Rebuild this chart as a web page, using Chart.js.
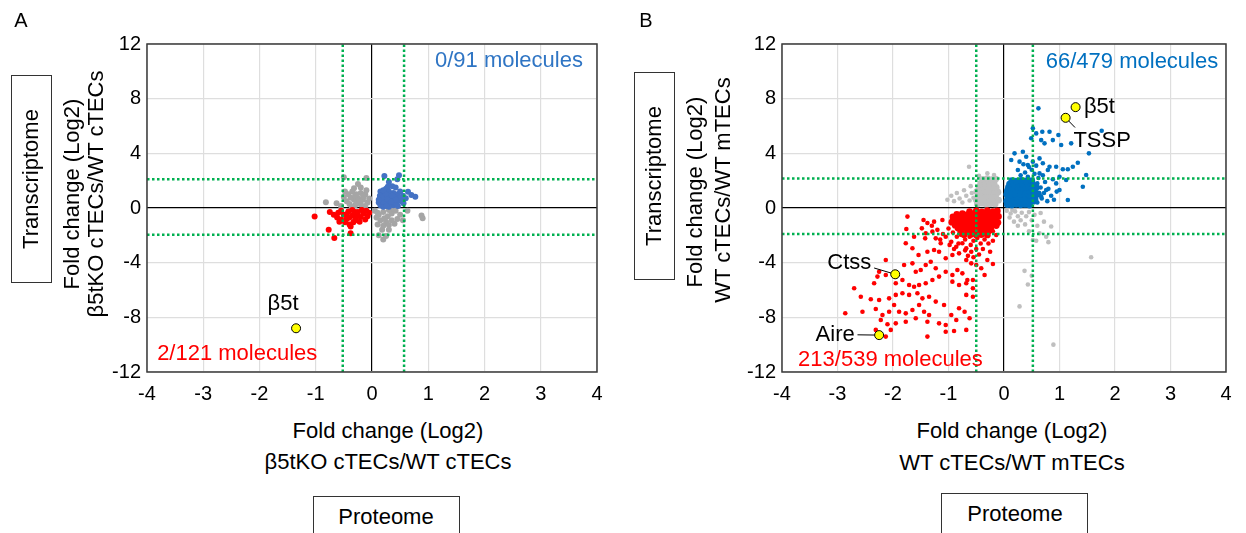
<html>
<head>
    <title>Proteome vs Transcriptome</title>
    <style>
        body {
            margin: 0;
            width: 1246px;
            height: 533px;
            overflow: hidden;
            background: #fff;
            font-family: "Liberation Sans", Arial, sans-serif;
            color: #000;
            position: relative;
        }
        canvas {
            position: absolute;
            top: 0;
        }
        .t {
            position: absolute;
            white-space: nowrap;
            transform: translate(-50%, -50%);
            font-size: 22px;
        }
        .v {
            transform: translate(-50%, -50%) rotate(-90deg);
        }
        .box {
            position: absolute;
            border: 1.5px solid #333;
            box-sizing: border-box;
        }
        .panel {
            position: absolute;
            font-size: 20px;
            transform: translate(-50%, -50%);
        }
    </style>
    <script src="https://cdn.jsdelivr.net/npm/chart.js"></script>
</head>
<body>
    <canvas id="chartA" width="620" height="412" style="left:0"></canvas>
    <canvas id="chartB" width="626" height="412" style="left:620px"></canvas>

    <div class="panel" style="left:21px;top:20px">A</div>
    <div class="panel" style="left:646px;top:20px">B</div>

    <div class="box" style="left:11px;top:75px;width:41px;height:208px"></div>
    <div class="t v" style="left:31px;top:179px">Transcriptome</div>
    <div class="t v" style="left:72px;top:194px">Fold change (Log2)</div>
    <div class="t v" style="left:96px;top:194px">β5tKO cTECs/WT cTECs</div>
    <div class="t" style="left:388px;top:431px">Fold change (Log2)</div>
    <div class="t" style="left:388px;top:462px">β5tKO cTECs/WT cTECs</div>
    <div class="box" style="left:313px;top:496px;width:147px;height:60px"></div>
    <div class="t" style="left:386px;top:517px">Proteome</div>

    <div class="box" style="left:634px;top:72px;width:41px;height:208px"></div>
    <div class="t v" style="left:654px;top:176px">Transcriptome</div>
    <div class="t v" style="left:695px;top:192px">Fold change (Log2)</div>
    <div class="t v" style="left:723px;top:190px">WT cTECs/WT mTECs</div>
    <div class="t" style="left:1012px;top:431px">Fold change (Log2)</div>
    <div class="t" style="left:1012px;top:463px">WT cTECs/WT mTECs</div>
    <div class="box" style="left:941px;top:493px;width:147px;height:60px"></div>
    <div class="t" style="left:1015px;top:514px">Proteome</div>

    <script>
        // axis ticks
        var xTicks = [-4, -3, -2, -1, 0, 1, 2, 3, 4];
        var yTicks = [-12, -8, -4, 0, 4, 8, 12];

        // cut-off lines (log2)
        var aCutX = [-0.52, 0.57];
        var aCutY = [2.1, -1.95];
        var bCutX = [-0.5, 0.52];
        var bCutY = [2.15, -1.9];

        // panel A: beta5tKO cTECs / WT cTECs
        var aGray = [
            [-0.82,0.42],[-0.63,0.35],[-0.1,2.2],[-0.25,1.75],[-0.32,1.45],[-0.2,1.5],[-0.45,0.5],[-0.5,0.8],
            [-0.42,1.0],[-0.35,1.2],[-0.28,1.0],[-0.2,1.1],[-0.12,1.0],[-0.4,0.3],[-0.32,0.6],[-0.24,0.7],
            [-0.16,0.6],[-0.08,0.4],[-0.3,0.2],[-0.2,0.25],[-0.12,0.15],[-0.38,0.75],[-0.27,0.4],[-0.15,0.85],
            [-0.05,0.7],[-0.55,0.15],[-0.48,1.2],[-0.5,2.25],[-0.3,0.9],[-0.1,1.3],[-0.36,0.1],[-0.22,0.5],
            [0.05,-0.2],[0.12,-0.5],[0.2,-0.3],[0.28,-0.6],[0.35,-0.4],[0.42,-0.2],[0.5,-0.5],[0.15,-0.9],
            [0.25,-1.0],[0.35,-0.9],[0.45,-0.8],[0.1,-1.2],[0.2,-1.3],[0.3,-1.25],[0.4,-1.15],[0.55,-0.9],
            [0.63,-0.2],[0.88,-0.55],[0.9,-0.75],[0.12,-2.0],[0.2,-2.3],[0.25,-2.05],[0.18,-1.6],[0.3,-1.6],
            [0.08,-0.7],[0.38,-0.05],[0.22,-0.75],[0.1,-0.35],[0.3,-0.15]
        ];
        var aRed = [
            [-1.02,-0.62],[-0.77,-1.6],[-0.67,-2.2],[-0.38,-1.85],[-0.38,-1.35],[-0.75,-0.3],[-0.68,-0.5],
            [-0.6,-0.35],[-0.62,-0.7],[-0.55,-0.2],[-0.5,-0.5],[-0.45,-0.8],[-0.42,-0.25],[-0.35,-0.55],
            [-0.3,-0.9],[-0.25,-0.3],[-0.2,-0.65],[-0.15,-0.4],[-0.1,-0.2],[-0.08,-0.6],[-0.48,-1.05],
            [-0.4,-1.2],[-0.3,-0.3],[-0.22,-1.0],[-0.12,-0.85],[-0.55,-0.85],[-0.35,-0.15],[-0.58,-1.0],
            [-0.28,-0.65],[-0.18,-0.15],[-0.45,-0.45],[-0.05,-0.35],[-0.4,-0.7],[-0.26,-0.45],[-0.33,-1.05]
        ];
        var aBlue = [
            [0.22,2.35],[0.48,2.4],[0.45,2.1],[0.3,1.9],[0.36,1.6],[0.42,1.5],[0.25,1.4],[0.15,1.2],
            [0.2,1.1],[0.3,1.2],[0.38,1.1],[0.45,1.0],[0.5,1.2],[0.55,0.9],[0.64,1.19],[0.7,0.95],
            [0.77,0.83],[0.6,0.71],[0.56,0.34],[0.52,0.5],[0.14,0.9],[0.18,0.6],[0.12,0.4],[0.15,0.2],
            [0.2,0.1],[0.25,0.3],[0.3,0.5],[0.35,0.7],[0.4,0.8],[0.28,0.8],[0.22,0.9],[0.33,0.3],
            [0.38,0.2],[0.43,0.4],[0.47,0.6],[0.2,0.45],[0.27,0.65],[0.32,1.0],[0.4,0.4],[0.46,0.15],
            [0.5,0.75],[0.24,1.0],[0.36,0.9],[0.17,0.75],[0.12,0.6],[0.3,0.1],[0.42,0.6],[0.26,0.15],
            [0.34,0.45],[0.28,1.55],[0.2,1.3]
        ];
        var aYellow = [[-1.35, -8.8]];

        // panel B: WT cTECs / WT mTECs
        var bGray = [
            [-1.02,0.6],[-0.95,0.9],[-0.9,0.5],[-0.85,1.1],[-0.8,0.7],[-0.75,0.4],[-0.72,1.3],[-0.68,0.9],
            [-0.63,3.02],[-0.62,0.55],[-0.6,1.6],[-0.58,1.1],[-0.55,0.75],[-0.3,2.54],[-0.18,2.41],[-0.45,2.35],
            [0.05,-0.2],[0.12,-0.4],[0.2,-0.25],[0.1,-0.7],[0.25,-0.6],[0.32,-0.35],[0.18,-1.0],[0.3,-0.9],
            [0.4,-0.6],[0.45,-0.3],[0.38,-1.2],[0.5,-0.9],[0.55,-0.5],[0.66,-0.37],[0.6,-1.3],[0.72,-1.0],
            [0.85,-1.35],[0.64,-1.85],[0.76,-2.1],[0.52,-2.34],[0.45,-1.7],[0.58,-2.4],[0.8,-2.5],[0.25,-1.3],
            [0.15,-0.15],[1.57,-3.6],[0.37,-4.6],[0.43,-5.6],[0.28,-7.2],[0.89,-10.0],[0.5,-4.96]
        ];
        var bGrayCore = [
            [-0.48,0.3],[-0.4,0.35],[-0.32,0.28],[-0.24,0.33],[-0.16,0.3],
            [-0.5,0.6],[-0.42,0.62],[-0.34,0.58],[-0.26,0.64],[-0.18,0.6],[-0.1,0.57],
            [-0.47,0.9],[-0.39,0.94],[-0.31,0.88],[-0.23,0.92],[-0.15,0.9],
            [-0.49,1.2],[-0.41,1.18],[-0.33,1.24],[-0.25,1.2],[-0.17,1.22],[-0.11,1.16],
            [-0.45,1.5],[-0.37,1.54],[-0.29,1.48],[-0.21,1.52],[-0.14,1.5],
            [-0.42,1.8],[-0.34,1.84],[-0.26,1.78],[-0.18,1.82],
            [-0.38,2.1],[-0.3,2.14],[-0.22,2.08],[-0.15,2.12]
        ];
        var bRed = [
            [-1.74,-0.63],[-1.45,-0.88],[-1.26,-1.0],[-1.11,-0.88],[-1.76,-1.54],[-1.48,-1.49],[-1.41,-1.85],
            [-1.29,-1.73],[-1.62,-2.1],[-1.42,-2.22],[-1.23,-2.22],[-1.14,-2.58],[-1.05,-2.1],[-0.95,-2.47],
            [-0.86,-2.83],[-0.75,-2.58],[-0.68,-2.95],[-0.59,-3.2],[-1.77,-2.58],[-1.65,-2.95],[-1.54,-3.44],
            [-1.38,-3.2],[-1.26,-3.07],[-1.17,-3.2],[-1.05,-3.68],[-0.93,-3.44],[-0.81,-3.32],[-0.68,-3.8],
            [-0.59,-4.05],[-0.5,-4.17],[-0.41,-4.41],[-0.35,-4.9],[-2.13,-3.8],[-1.8,-4.17],[-1.65,-4.05],
            [-1.59,-4.66],[-1.5,-4.54],[-1.41,-4.17],[-1.32,-3.93],[-1.23,-4.41],[-1.17,-5.02],[-1.05,-4.66],
            [-0.93,-4.9],[-0.84,-4.54],[-0.75,-4.78],[-0.66,-5.27],[-0.56,-5.27],[-2.25,-4.66],[-2.28,-5.02],
            [-2.34,-5.51],[-2.13,-4.9],[-1.95,-5.51],[-1.83,-5.27],[-1.71,-5.63],[-1.62,-5.76],[-1.53,-5.63],
            [-1.41,-5.51],[-1.29,-5.27],[-0.93,-5.39],[-0.81,-5.63],[-0.68,-5.51],[-0.56,-5.87],[-2.7,-5.87],
            [-2.58,-6.49],[-2.4,-6.68],[-2.25,-6.73],[-2.07,-6.61],[-1.95,-6.36],[-1.83,-6.24],[-1.71,-6.36],
            [-1.56,-6.24],[-1.47,-6.61],[-1.35,-6.49],[-1.23,-6.85],[-0.68,-6.36],[-0.56,-6.49],[-2.86,-7.7],
            [-2.55,-7.59],[-2.31,-7.39],[-2.19,-7.83],[-2.07,-7.59],[-1.98,-7.1],[-1.89,-7.59],[-1.77,-7.71],
            [-1.65,-7.46],[-1.53,-7.1],[-1.44,-7.59],[-1.35,-7.83],[-1.08,-7.1],[-0.95,-7.83],[-0.81,-7.34],
            [-0.71,-7.59],[-0.62,-8.07],[-2.22,-8.19],[-2.1,-8.51],[-1.95,-8.44],[-1.77,-8.32],[-1.59,-8.07],
            [-1.38,-8.32],[-1.17,-8.44],[-1.05,-8.56],[-0.86,-8.19],[-2.31,-8.92],[-2.13,-9.41],[-2.04,-8.92],
            [-1.38,-9.41],[-1.05,-9.05],[-0.9,-9.0],[-0.68,-8.92],
            [-1.2,-1.6],[-1.1,-1.9],[-1.0,-1.5],[-0.92,-1.8],[-0.85,-2.1],[-0.78,-1.95],[-0.7,-2.3],
            [-0.62,-2.1],[-0.55,-2.4],[-0.48,-2.2],[-0.42,-2.6],[-0.35,-2.3],[-0.3,-2.0],[-0.6,-2.7],
            [-0.7,-3.1],[-0.82,-2.6],[-0.9,-3.0],[-0.5,-3.0],[-0.45,-3.4],[-0.38,-3.0],[-0.28,-2.6],
            [-0.25,-3.2],[-0.55,-3.6],[-0.65,-3.5],[-0.98,-2.7],[-1.15,-2.3],[-1.3,-1.3],[-1.38,-1.1],
            [-0.3,-3.8],[-0.2,-4.1],[-0.2,-2.4],[-0.4,-1.9],[-0.65,-1.75],[-0.14,-1.98],[-0.2,-1.7]
        ];
        var bRedCore = [
            [-0.62,-0.27],[-0.5,-0.22],[-0.4,-0.28],[-0.3,-0.2],[-0.2,-0.26],[-0.12,-0.22],
            [-0.85,-0.47],[-0.75,-0.42],[-0.66,-0.48],[-0.56,-0.44],[-0.47,-0.5],[-0.38,-0.43],[-0.29,-0.47],[-0.21,-0.42],[-0.13,-0.48],
            [-0.92,-0.66],[-0.81,-0.62],[-0.72,-0.68],[-0.63,-0.63],[-0.53,-0.67],[-0.44,-0.62],[-0.35,-0.68],[-0.26,-0.64],[-0.17,-0.66],[-0.1,-0.62],
            [-0.9,-0.86],[-0.8,-0.82],[-0.7,-0.88],[-0.61,-0.84],[-0.52,-0.87],[-0.43,-0.83],[-0.33,-0.88],[-0.24,-0.82],[-0.15,-0.86],
            [-0.94,-1.04],[-0.84,-1.08],[-0.74,-1.03],[-0.65,-1.07],[-0.56,-1.02],[-0.46,-1.06],[-0.37,-1.03],[-0.28,-1.08],[-0.19,-1.04],[-0.11,-1.07],
            [-0.88,-1.26],[-0.78,-1.22],[-0.68,-1.28],[-0.58,-1.24],[-0.49,-1.27],[-0.4,-1.22],[-0.31,-1.26],[-0.22,-1.23],[-0.14,-1.28],
            [-0.83,-1.46],[-0.72,-1.42],[-0.62,-1.48],[-0.52,-1.44],[-0.42,-1.47],[-0.33,-1.43],[-0.24,-1.46],
            [-0.78,-1.72],[-0.66,-1.68],[-0.55,-1.74],[-0.45,-1.69],[-0.36,-1.72],[-0.27,-1.67],
            [-0.72,-1.96],[-0.6,-1.93],[-0.5,-1.98],[-0.41,-1.94],[-0.3,-1.97]
        ];
        var bBlue = [
            [0.62,7.29],[0.52,5.83],[0.58,5.46],[0.69,5.58],[0.82,5.58],[0.98,5.34],[0.49,5.1],[0.67,4.97],
            [0.73,4.73],[0.88,4.97],[1.03,4.61],[1.21,4.73],[1.53,4.0],[0.19,4.0],[0.34,4.12],[0.13,3.51],
            [0.28,3.39],[0.4,3.75],[0.43,3.15],[0.52,3.39],[0.64,3.63],[0.7,3.27],[0.82,3.02],[0.94,3.02],
            [1.06,2.83],[1.15,2.83],[1.24,3.02],[1.33,3.31],[1.48,2.41],[1.42,1.56],[1.15,0.58],[1.0,1.32],
            [0.94,1.8],[1.12,2.05],[1.0,2.29],[0.79,2.78],[0.64,2.53],[0.76,1.32],[0.67,0.83],[0.58,0.58],
            [0.25,2.78],[0.43,2.29],[1.76,5.65],
            [0.6,0.4],[0.68,0.7],[0.72,1.1],[0.78,0.5],[0.66,1.5],[0.74,1.9],[0.85,0.9],[0.62,2.2],
            [0.55,2.5],[0.7,2.4],[0.8,1.4],[0.9,0.6],[0.95,1.2],[0.88,2.1],[0.6,1.8],[0.5,2.8],
            [0.38,2.6],[0.3,2.4],[0.45,3.0],[0.58,3.1],[0.35,3.2]
        ];
        var bBlueCore = [
            [0.06,0.25],[0.14,0.22],[0.22,0.27],[0.3,0.23],[0.38,0.26],[0.46,0.22],
            [0.05,0.5],[0.13,0.47],[0.21,0.52],[0.29,0.48],[0.37,0.51],[0.45,0.47],[0.53,0.5],
            [0.07,0.75],[0.15,0.72],[0.23,0.77],[0.31,0.73],[0.39,0.76],[0.47,0.72],[0.56,0.75],
            [0.05,1.0],[0.13,0.97],[0.21,1.02],[0.29,0.98],[0.37,1.01],[0.45,0.97],[0.54,1.0],[0.62,1.03],
            [0.06,1.25],[0.14,1.22],[0.22,1.27],[0.3,1.23],[0.38,1.26],[0.46,1.22],[0.55,1.25],
            [0.08,1.5],[0.16,1.47],[0.24,1.52],[0.32,1.48],[0.4,1.51],[0.49,1.47],[0.58,1.5],
            [0.1,1.75],[0.18,1.72],[0.26,1.77],[0.34,1.73],[0.43,1.76],[0.52,1.72],
            [0.14,2.0],[0.22,1.97],[0.31,2.02],[0.4,1.98],[0.5,2.0]
        ];
        var bYellow = [[1.29, 7.38], [1.11, 6.6], [-1.96, -4.85], [-2.25, -9.3]];

        function pts(list) {
            return list.map(function (p) { return { x: p[0], y: p[1] }; });
        }

        function dots(list, color, r, order) {
            return { data: pts(list), backgroundColor: color, borderWidth: 0, pointRadius: r, order: order };
        }

        function seg(a, b, color, width, dash, order) {
            return {
                data: pts([a, b]), showLine: true, pointRadius: 0, borderColor: color,
                borderWidth: width, borderDash: dash, order: order
            };
        }

        function cutLines(cx, cy) {
            var out = [];
            cx.forEach(function (v) { out.push(seg([v, -12], [v, 12], '#00b050', 2.5, [2.5, 2.5], 1)); });
            cy.forEach(function (v) { out.push(seg([-4, v], [4, v], '#00b050', 2.5, [2.5, 2.5], 1)); });
            return out;
        }

        var annot = {
            id: 'annot',
            afterDatasetsDraw: function (chart, args, opts) {
                var ctx = chart.ctx, xs = chart.scales.x, ys = chart.scales.y;
                (opts.texts || []).forEach(function (t) {
                    ctx.save();
                    ctx.font = (t.size || 22) + 'px "Liberation Sans", Arial, sans-serif';
                    ctx.fillStyle = t.color || '#000';
                    ctx.textAlign = t.align || 'center';
                    ctx.textBaseline = 'middle';
                    ctx.fillText(t.text, xs.getPixelForValue(t.x), ys.getPixelForValue(t.y));
                    ctx.restore();
                });
            },
            afterDraw: function (chart) {
                var a = chart.chartArea, ctx = chart.ctx;
                ctx.save();
                ctx.strokeStyle = '#3a3a3a';
                ctx.lineWidth = 1.5;
                ctx.strokeRect(a.left, a.top, a.right - a.left, a.bottom - a.top);
                ctx.restore();
            }
        };

        function gridColor(c) {
            return c.tick && c.tick.value === 0 ? '#000' : '#dedede';
        }

        function makeChart(id, datasets, texts, padLeft, padRight) {
            return new Chart(document.getElementById(id), {
                type: 'scatter',
                data: { datasets: datasets },
                plugins: [annot],
                options: {
                    responsive: false,
                    animation: false,
                    devicePixelRatio: 1,
                    layout: { padding: { left: padLeft, right: padRight, top: 44, bottom: 0 } },
                    plugins: {
                        legend: { display: false },
                        tooltip: { enabled: false },
                        annot: { texts: texts }
                    },
                    scales: {
                        x: {
                            min: xTicks[0], max: xTicks[xTicks.length - 1],
                            afterBuildTicks: function (s) { s.ticks = xTicks.map(function (v) { return { value: v }; }); },
                            afterFit: function (s) { s.height = 40; },
                            ticks: { padding: 10, color: '#000', font: { size: 20, family: '"Liberation Sans", Arial' } },
                            grid: { color: gridColor, lineWidth: 1.2, drawTicks: false },
                            border: { display: false }
                        },
                        y: {
                            min: yTicks[0], max: yTicks[yTicks.length - 1],
                            afterBuildTicks: function (s) { s.ticks = yTicks.map(function (v) { return { value: v }; }); },
                            afterFit: function (s) { s.width = 44; },
                            ticks: { padding: 6, color: '#000', font: { size: 20, family: '"Liberation Sans", Arial' } },
                            grid: { color: gridColor, lineWidth: 1.2, drawTicks: false },
                            border: { display: false }
                        }
                    }
                }
            });
        }

        var yellow = { backgroundColor: '#ffff00', borderColor: '#000', borderWidth: 1, pointRadius: 4.5, order: 0 };

        var setsA = cutLines(aCutX, aCutY).concat([
            Object.assign({ data: pts(aYellow) }, yellow),
            dots(aBlue, '#4472c4', 3, 2),
            dots(aRed, '#ff0000', 3, 3),
            dots(aGray, '#a5a5a5', 3, 4)
        ]);
        var textsA = [
            { text: '0/91 molecules', x: 3.75, y: 10.75, align: 'right', color: '#2f75c4' },
            { text: '2/121 molecules', x: -3.82, y: -10.68, align: 'left', color: '#ff0000' },
            { text: 'β5t', x: -1.58, y: -7.0 }
        ];
        makeChart('chartA', setsA, textsA, 103, 23);

        var setsB = cutLines(bCutX, bCutY).concat([
            seg([1.11, 6.6], [1.28, 5.89], '#000', 1, [], 1),
            seg([-1.96, -4.85], [-2.34, -4.39], '#000', 1, [], 1),
            seg([-2.25, -9.3], [-2.64, -9.28], '#000', 1, [], 1),
            Object.assign({ data: pts(bYellow) }, yellow),
            dots(bBlue, '#0070c0', 2.3, 2),
            dots(bBlueCore, '#0070c0', 3.4, 2),
            dots(bRed, '#ff0000', 2.3, 3),
            dots(bRedCore, '#ff0000', 3.4, 3),
            dots(bGray, '#bfbfbf', 2.3, 4),
            dots(bGrayCore, '#bfbfbf', 3.4, 4)
        ]);
        var textsB = [
            { text: '66/479 molecules', x: 3.86, y: 10.67, align: 'right', color: '#0070c0' },
            { text: '213/539 molecules', x: -3.71, y: -11.15, align: 'left', color: '#ff0000' },
            { text: 'β5t', x: 1.44, y: 7.43, align: 'left' },
            { text: 'TSSP', x: 1.25, y: 4.94, align: 'left' },
            { text: 'Ctss', x: -2.39, y: -4.0, align: 'right' },
            { text: 'Aire', x: -2.69, y: -9.28, align: 'right' }
        ];
        makeChart('chartB', setsB, textsB, 118, 20);
    </script>
</body>
</html>
